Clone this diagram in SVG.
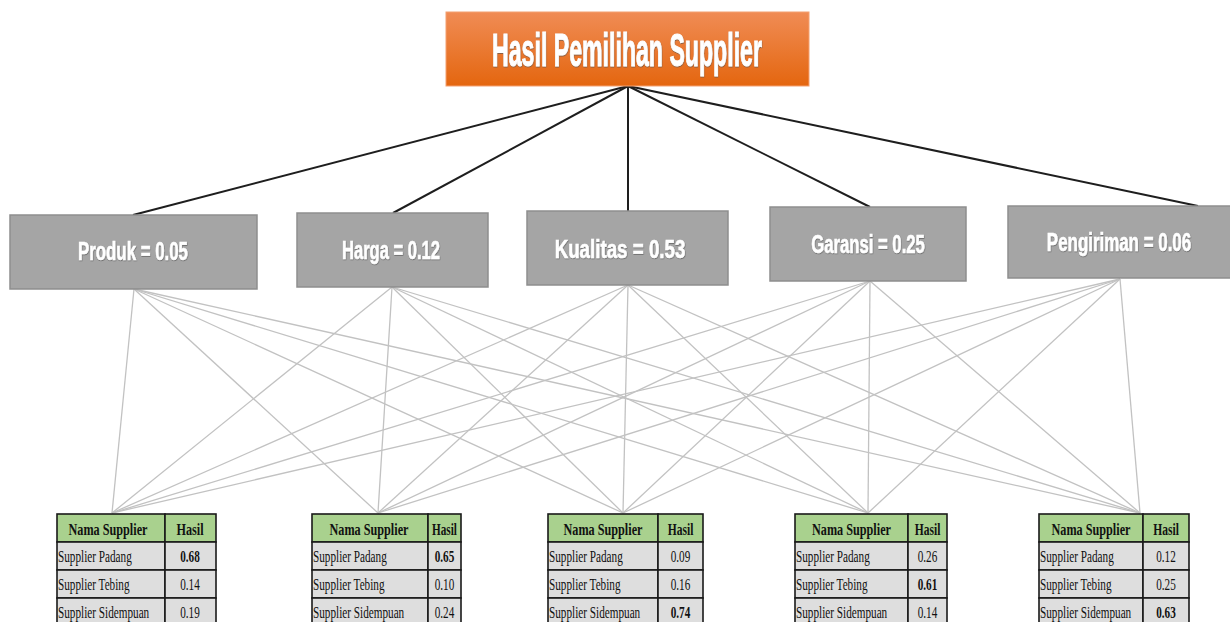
<svg xmlns="http://www.w3.org/2000/svg" width="1230" height="622" viewBox="0 0 1230 622">
  <defs>
    <linearGradient id="orange" x1="0" y1="0" x2="0" y2="1">
      <stop offset="0" stop-color="#f08c55"/>
      <stop offset="1" stop-color="#e4660f"/>
    </linearGradient>
    <filter id="shadow" x="-10%" y="-30%" width="120%" height="160%">
      <feDropShadow dx="0.6" dy="0.8" stdDeviation="0.5" flood-color="#555" flood-opacity="0.8"/>
    </filter>
    <style>
      .title { font-family: "Liberation Sans", Arial, sans-serif; font-weight: bold; font-size: 46px; fill: #ffffff; stroke: #ffffff; stroke-width: 1; }
      .crit-box { fill: #a5a5a5; stroke: #8e8e8e; stroke-width: 1.5; }
      .crit-text { font-family: "Liberation Sans", Arial, sans-serif; font-weight: bold; font-size: 25px; fill: #ffffff; stroke: #ffffff; stroke-width: 0.6; }
      .top-link { stroke: #1e1e1e; stroke-width: 2; fill: none; }
      .low-link { stroke: #c2c2c2; stroke-width: 1.3; fill: none; }
      .hdr { fill: #a9d18e; stroke: #1a1a1a; stroke-width: 1.6; }
      .row { fill: #dedede; stroke: #1a1a1a; stroke-width: 1.6; }
      .th { font-family: "Liberation Serif", "Times New Roman", serif; font-weight: bold; font-size: 16.5px; fill: #111; }
      .td { font-family: "Liberation Serif", "Times New Roman", serif; font-size: 16.5px; fill: #111; }
      .tb { font-family: "Liberation Serif", "Times New Roman", serif; font-weight: bold; font-size: 16.5px; fill: #111; }
      .mid { text-anchor: middle; }
    </style>
  </defs>

  <rect width="1230" height="622" fill="#ffffff"/>

  <!-- connectors -->
  <g id="connectors">
    <!-- goal to criteria -->
    <line class="top-link" x1="628" y1="86" x2="133" y2="215"/>
    <line class="top-link" x1="628" y1="86" x2="393" y2="213"/>
    <line class="top-link" x1="628" y1="86" x2="628" y2="211"/>
    <line class="top-link" x1="628" y1="86" x2="870" y2="207"/>
    <line class="top-link" x1="628" y1="86" x2="1198" y2="206"/>
    <!-- criteria to alternatives: Produk -->
    <line class="low-link" x1="134" y1="289" x2="112" y2="513"/>
    <line class="low-link" x1="134" y1="289" x2="378" y2="513"/>
    <line class="low-link" x1="134" y1="289" x2="623" y2="513"/>
    <line class="low-link" x1="134" y1="289" x2="868" y2="513"/>
    <line class="low-link" x1="134" y1="289" x2="1140" y2="513"/>
    <!-- Harga -->
    <line class="low-link" x1="392" y1="287" x2="112" y2="513"/>
    <line class="low-link" x1="392" y1="287" x2="378" y2="513"/>
    <line class="low-link" x1="392" y1="287" x2="623" y2="513"/>
    <line class="low-link" x1="392" y1="287" x2="868" y2="513"/>
    <line class="low-link" x1="392" y1="287" x2="1140" y2="513"/>
    <!-- Kualitas -->
    <line class="low-link" x1="628" y1="285" x2="112" y2="513"/>
    <line class="low-link" x1="628" y1="285" x2="378" y2="513"/>
    <line class="low-link" x1="628" y1="285" x2="623" y2="513"/>
    <line class="low-link" x1="628" y1="285" x2="868" y2="513"/>
    <line class="low-link" x1="628" y1="285" x2="1140" y2="513"/>
    <!-- Garansi -->
    <line class="low-link" x1="870" y1="281" x2="112" y2="513"/>
    <line class="low-link" x1="870" y1="281" x2="378" y2="513"/>
    <line class="low-link" x1="870" y1="281" x2="623" y2="513"/>
    <line class="low-link" x1="870" y1="281" x2="868" y2="513"/>
    <line class="low-link" x1="870" y1="281" x2="1140" y2="513"/>
    <!-- Pengiriman -->
    <line class="low-link" x1="1120" y1="279" x2="112" y2="513"/>
    <line class="low-link" x1="1120" y1="279" x2="378" y2="513"/>
    <line class="low-link" x1="1120" y1="279" x2="623" y2="513"/>
    <line class="low-link" x1="1120" y1="279" x2="868" y2="513"/>
    <line class="low-link" x1="1120" y1="279" x2="1140" y2="513"/>
  </g>

  <!-- goal -->
  <g id="goal">
    <rect x="446" y="12" width="363" height="74" fill="url(#orange)" stroke="#f4a070" stroke-width="1"/>
    <text class="title mid" transform="translate(627,66) scale(0.503,1)" filter="url(#shadow)">Hasil Pemilihan Supplier</text>
  </g>

  <!-- criteria (condensed labels) -->
  <g id="produk">
    <rect class="crit-box" x="10" y="215" width="247" height="74"/>
    <text class="crit-text mid" transform="translate(133,260) scale(0.674,1)" filter="url(#shadow)">Produk = 0.05</text>
  </g>
  <g id="harga">
    <rect class="crit-box" x="297" y="213" width="191" height="74"/>
    <text class="crit-text mid" transform="translate(391,259) scale(0.662,1)" filter="url(#shadow)">Harga = 0.12</text>
  </g>
  <g id="kualitas">
    <rect class="crit-box" x="527" y="211" width="201" height="74"/>
    <text class="crit-text mid" transform="translate(620,258) scale(0.75,1)" filter="url(#shadow)">Kualitas = 0.53</text>
  </g>
  <g id="garansi">
    <rect class="crit-box" x="770" y="207" width="196" height="74"/>
    <text class="crit-text mid" transform="translate(868,253) scale(0.668,1)" filter="url(#shadow)">Garansi = 0.25</text>
  </g>
  <g id="pengiriman">
    <rect class="crit-box" x="1008" y="206" width="224" height="72"/>
    <text class="crit-text mid" transform="translate(1119,251) scale(0.677,1)" filter="url(#shadow)">Pengiriman = 0.06</text>
  </g>

  <!-- alternatives tables (text condensed horizontally) -->
  <g id="tabel-produk">
    <rect class="hdr" x="57" y="514" width="108" height="28"/>
    <rect class="hdr" x="165" y="514" width="51" height="28"/>
    <rect class="row" x="57" y="542" width="108" height="28"/>
    <rect class="row" x="165" y="542" width="51" height="28"/>
    <rect class="row" x="57" y="570" width="108" height="28"/>
    <rect class="row" x="165" y="570" width="51" height="28"/>
    <rect class="row" x="57" y="598" width="108" height="28"/>
    <rect class="row" x="165" y="598" width="51" height="28"/>
    <text class="th mid" transform="translate(108,535) scale(0.74,1)">Nama Supplier</text>
    <text class="th mid" transform="translate(190,535) scale(0.74,1)">Hasil</text>
    <text class="td" transform="translate(58,562) scale(0.68,1)">Supplier Padang</text>
    <text class="td" transform="translate(58,590) scale(0.68,1)">Supplier Tebing</text>
    <text class="td" transform="translate(58,618) scale(0.68,1)">Supplier Sidempuan</text>
    <text class="tb mid" transform="translate(190,562) scale(0.68,1)">0.68</text>
    <text class="td mid" transform="translate(190,590) scale(0.68,1)">0.14</text>
    <text class="td mid" transform="translate(190,618) scale(0.68,1)">0.19</text>
  </g>
  <g id="tabel-harga">
    <rect class="hdr" x="312" y="514" width="116" height="28"/>
    <rect class="hdr" x="428" y="514" width="33" height="28"/>
    <rect class="row" x="312" y="542" width="116" height="28"/>
    <rect class="row" x="428" y="542" width="33" height="28"/>
    <rect class="row" x="312" y="570" width="116" height="28"/>
    <rect class="row" x="428" y="570" width="33" height="28"/>
    <rect class="row" x="312" y="598" width="116" height="28"/>
    <rect class="row" x="428" y="598" width="33" height="28"/>
    <text class="th mid" transform="translate(369,535) scale(0.74,1)">Nama Supplier</text>
    <text class="th mid" transform="translate(444.5,535) scale(0.68,1)">Hasil</text>
    <text class="td" transform="translate(313,562) scale(0.68,1)">Supplier Padang</text>
    <text class="td" transform="translate(313,590) scale(0.68,1)">Supplier Tebing</text>
    <text class="td" transform="translate(313,618) scale(0.68,1)">Supplier Sidempuan</text>
    <text class="tb mid" transform="translate(444.5,562) scale(0.68,1)">0.65</text>
    <text class="td mid" transform="translate(444.5,590) scale(0.68,1)">0.10</text>
    <text class="td mid" transform="translate(444.5,618) scale(0.68,1)">0.24</text>
  </g>
  <g id="tabel-kualitas">
    <rect class="hdr" x="548" y="514" width="110" height="28"/>
    <rect class="hdr" x="658" y="514" width="45" height="28"/>
    <rect class="row" x="548" y="542" width="110" height="28"/>
    <rect class="row" x="658" y="542" width="45" height="28"/>
    <rect class="row" x="548" y="570" width="110" height="28"/>
    <rect class="row" x="658" y="570" width="45" height="28"/>
    <rect class="row" x="548" y="598" width="110" height="28"/>
    <rect class="row" x="658" y="598" width="45" height="28"/>
    <text class="th mid" transform="translate(603,535) scale(0.74,1)">Nama Supplier</text>
    <text class="th mid" transform="translate(680.5,535) scale(0.7,1)">Hasil</text>
    <text class="td" transform="translate(549,562) scale(0.68,1)">Supplier Padang</text>
    <text class="td" transform="translate(549,590) scale(0.68,1)">Supplier Tebing</text>
    <text class="td" transform="translate(549,618) scale(0.68,1)">Supplier Sidempuan</text>
    <text class="td mid" transform="translate(680.5,562) scale(0.68,1)">0.09</text>
    <text class="td mid" transform="translate(680.5,590) scale(0.68,1)">0.16</text>
    <text class="tb mid" transform="translate(680.5,618) scale(0.68,1)">0.74</text>
  </g>
  <g id="tabel-garansi">
    <rect class="hdr" x="795" y="514" width="113" height="28"/>
    <rect class="hdr" x="908" y="514" width="39" height="28"/>
    <rect class="row" x="795" y="542" width="113" height="28"/>
    <rect class="row" x="908" y="542" width="39" height="28"/>
    <rect class="row" x="795" y="570" width="113" height="28"/>
    <rect class="row" x="908" y="570" width="39" height="28"/>
    <rect class="row" x="795" y="598" width="113" height="28"/>
    <rect class="row" x="908" y="598" width="39" height="28"/>
    <text class="th mid" transform="translate(851.5,535) scale(0.74,1)">Nama Supplier</text>
    <text class="th mid" transform="translate(927.5,535) scale(0.7,1)">Hasil</text>
    <text class="td" transform="translate(796,562) scale(0.68,1)">Supplier Padang</text>
    <text class="td" transform="translate(796,590) scale(0.68,1)">Supplier Tebing</text>
    <text class="td" transform="translate(796,618) scale(0.68,1)">Supplier Sidempuan</text>
    <text class="td mid" transform="translate(927.5,562) scale(0.68,1)">0.26</text>
    <text class="tb mid" transform="translate(927.5,590) scale(0.68,1)">0.61</text>
    <text class="td mid" transform="translate(927.5,618) scale(0.68,1)">0.14</text>
  </g>
  <g id="tabel-pengiriman">
    <rect class="hdr" x="1039" y="514" width="104" height="28"/>
    <rect class="hdr" x="1143" y="514" width="46" height="28"/>
    <rect class="row" x="1039" y="542" width="104" height="28"/>
    <rect class="row" x="1143" y="542" width="46" height="28"/>
    <rect class="row" x="1039" y="570" width="104" height="28"/>
    <rect class="row" x="1143" y="570" width="46" height="28"/>
    <rect class="row" x="1039" y="598" width="104" height="28"/>
    <rect class="row" x="1143" y="598" width="46" height="28"/>
    <text class="th mid" transform="translate(1091,535) scale(0.74,1)">Nama Supplier</text>
    <text class="th mid" transform="translate(1166,535) scale(0.7,1)">Hasil</text>
    <text class="td" transform="translate(1040,562) scale(0.68,1)">Supplier Padang</text>
    <text class="td" transform="translate(1040,590) scale(0.68,1)">Supplier Tebing</text>
    <text class="td" transform="translate(1040,618) scale(0.68,1)">Supplier Sidempuan</text>
    <text class="td mid" transform="translate(1166,562) scale(0.68,1)">0.12</text>
    <text class="td mid" transform="translate(1166,590) scale(0.68,1)">0.25</text>
    <text class="tb mid" transform="translate(1166,618) scale(0.68,1)">0.63</text>
  </g>
</svg>
